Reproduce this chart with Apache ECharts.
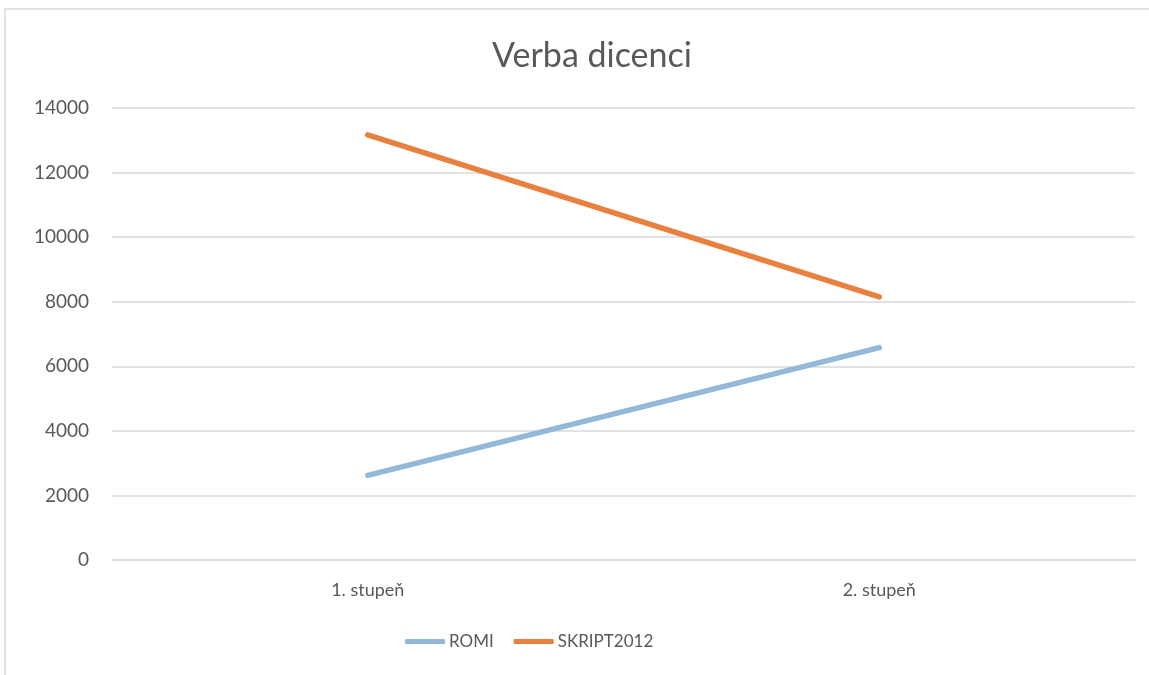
<!DOCTYPE html>
<html>
<head>
<meta charset="utf-8">
<script src="https://cdn.jsdelivr.net/npm/echarts@6/dist/echarts.min.js"></script>
<style>
    html, body { margin: 0; padding: 0; background: #fff; }
    #chart { width: 1149px; height: 675px; }
</style>
</head>
<body>
<div id="chart"></div>
<script>
    const categories = ['1. stupeň', '2. stupeň']
    const romi = [2620, 6580]
    const skript2012 = [13170, 8150]

    const chart = echarts.init(document.getElementById('chart'))
    const font = 'Lato, "Open Sans", sans-serif'

    chart.setOption({
        animation: false,
        textStyle: { fontFamily: font, color: '#595959' },
        title: {
            text: 'Verba dicenci',
            left: 587,
            textAlign: 'center',
            top: 34,
            textStyle: { fontFamily: font, fontSize: 34, fontWeight: 'normal', color: '#595959' }
        },
        // frame of the embedded chart
        graphic: [{
            type: 'polyline',
            shape: { points: [[5, 675], [5, 9], [1149, 9]] },
            style: { stroke: '#d9d9d9', lineWidth: 1.5, fill: null }
        }],
        legend: {
            bottom: 20,
            left: 400,
            icon: 'roundRect',
            itemWidth: 40,
            itemHeight: 5,
            itemGap: 20,
            textStyle: { fontFamily: font, fontSize: 17, color: '#595959', padding: [0, 0, 0, -1] },
            data: ['ROMI', 'SKRIPT2012']
        },
        grid: { left: 112, right: 14, top: 108, bottom: 115 },
        xAxis: {
            type: 'category',
            boundaryGap: true,
            data: categories,
            axisLine: { lineStyle: { color: '#d9d9d9', width: 1.5 } },
            axisTick: { show: false },
            axisLabel: { fontFamily: font, fontSize: 18, color: '#595959', margin: 21 }
        },
        yAxis: {
            type: 'value',
            min: 0,
            max: 14000,
            interval: 2000,
            axisLine: { show: false },
            axisTick: { show: false },
            splitLine: { lineStyle: { color: '#d9d9d9', width: 1.5 } },
            axisLabel: {
                fontFamily: font, fontSize: 19, color: '#595959', margin: 23,
                formatter: v => String(v)
            }
        },
        series: [
            {
                name: 'ROMI',
                type: 'line',
                data: romi,
                symbol: 'none',
                color: '#94b8da',
                lineStyle: { color: '#94b8da', width: 5.5, cap: 'round' }
            }, {
                name: 'SKRIPT2012',
                type: 'line',
                data: skript2012,
                symbol: 'none',
                color: '#e8803f',
                lineStyle: { color: '#e8803f', width: 5.5, cap: 'round' }
            }
        ]
    })
</script>
</body>
</html>
